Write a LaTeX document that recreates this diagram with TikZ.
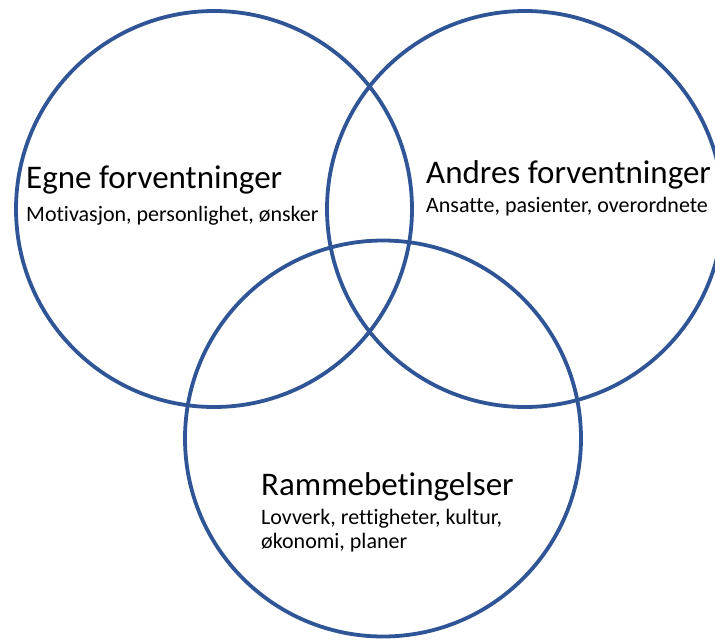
\documentclass[tikz,border=0pt]{standalone}
\usepackage{fontspec}
\setmainfont{Carlito}[Ligatures=NoCommon]
\definecolor{ringblue}{HTML}{2F5597}
\begin{document}
\begin{tikzpicture}[x=1pt,y=-1pt,
  ring/.style={draw=ringblue, line width=3.8pt, circle, minimum size=396pt, inner sep=0pt},
  title/.style={anchor=base west, inner sep=0pt, font=\fontsize{33}{38}\selectfont},
  sub/.style={anchor=base west, inner sep=0pt, font=\fontsize{22}{24}\selectfont}]
\clip (0,0) rectangle (715,641);
\fill[white] (0,0) rectangle (715,641);
\node[ring] (egne) at (214,209) {};
\node[ring] (andres) at (525,209) {};
\node[ring] (ramme) at (383,438.5) {};
\node[title] (t1) at (26,188.5) {Egne forventninger};
\node[sub] (s1) at (26,221) {Motivasjon, personlighet, ønsker};
\node[title] (t2) at (426,183.3) {Andres forventninger};
\node[sub] (s2) at (426,212) {Ansatte, pasienter, overordnete};
\node[title] (t3) at (261,495) {Rammebetingelser};
\node[sub] (s3) at (261,524.3) {Lovverk, rettigheter, kultur,};
\node[sub] (s4) at (261,548.5) {økonomi, planer};
\end{tikzpicture}
\end{document}
